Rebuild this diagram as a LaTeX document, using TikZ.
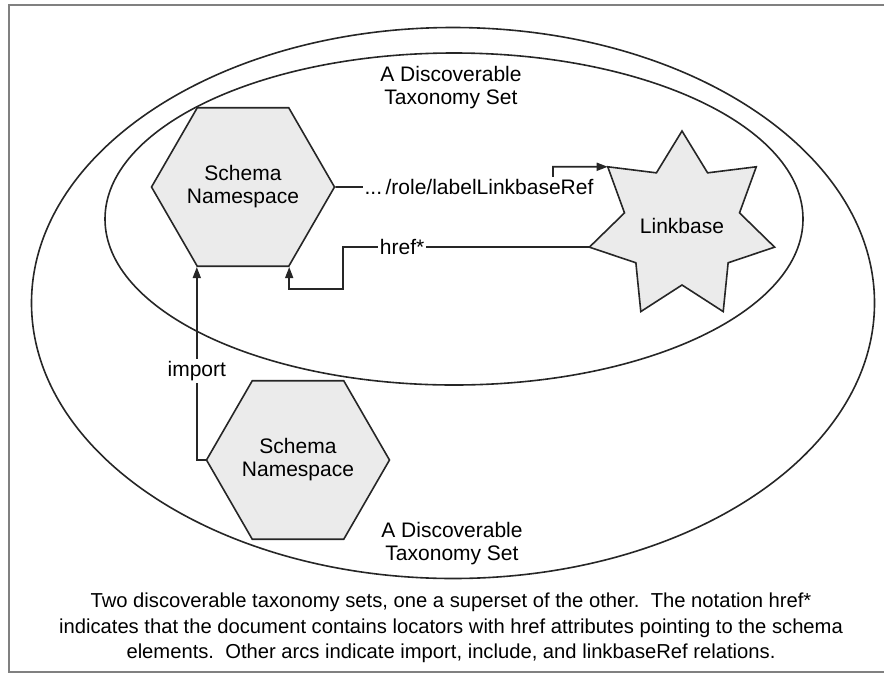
\documentclass[tikz,border=0pt]{standalone}
\usepackage{fontspec}
\setmainfont{Liberation Sans}
\usetikzlibrary{shapes.geometric,arrows.meta}
\newcommand{\lblFont}[0]{\fontsize{21}{23}\selectfont}
\newcommand{\capFont}[0]{\fontsize{20.2}{25.5}\selectfont}

\begin{document}
\begin{tikzpicture}[x=1pt, y=-1pt]
  \tikzset{line/.style={draw=black!85, line width=1.6pt},
           hexa/.style={line, fill=black!8, regular polygon, regular polygon sides=6,
                        align=center, font=\lblFont, inner sep=0pt},
           arr/.style={line, -{Triangle[length=11pt,width=8pt]}},
           lbl/.style={fill=white, font=\lblFont, inner sep=2pt, align=center}}
  \useasboundingbox (0,0) rectangle (885,675);
  \draw[draw=black!50, line width=2.2pt] (884,5) -- (9,5) -- (9,672) -- (884,672);
  \node[line, ellipse, minimum width=843, minimum height=551, inner sep=0pt] (outerset) at (453,303) {};
  \node[line, ellipse, minimum width=698, minimum height=332, inner sep=0pt] (innerset) at (454,219) {};
  \node[font=\lblFont, align=center] (innername) at (451,88) {A Discoverable\\Taxonomy Set};
  \node[font=\lblFont, align=center] (outername) at (452,544) {A Discoverable\\Taxonomy Set};
  \node[hexa, minimum size=180] (hexA) at (243,187) {Schema\\Namespace};
  \node[hexa, minimum size=166] (hexB) at (298,460) {Schema\\Namespace};
  % seven pointed star, drawn point by point (y runs down)
  \coordinate (lbc) at (682,226);
  \draw[line, fill=black!8, shift={(lbc)}]
    plot[samples at={0,...,13}] ({-90-\x*180/7}:{95-36*mod(\x,2)}) -- cycle;
  \node[font=\lblFont] (lb) at (lbc) {Linkbase};
  \path (lbc) ++(-141.43:95) coordinate (lbtipA);
  \path (lbc) ++(-192.86:95) coordinate (lbtipB);
  \coordinate (lkbend) at (553,187);
  \coordinate (hrefbend) at (343,289);
  \draw[arr] (hexA.east) -- node[lbl, pos=0.66]{...\,/role/labelLinkbaseRef} (lkbend) |- (lbtipA);
  \draw[arr] (lbtipB) -| node[lbl, pos=0.38]{href*} (hrefbend) -| (hexA.300);
  \draw[arr] (hexB.west) -| node[lbl, pos=0.73]{import} (hexA.240);
  \node[font=\capFont, align=center] (caption) at (451,628)
    {Two discoverable taxonomy sets, one a superset of the other.\ \ The notation href*\\
     indicates that the document contains locators with href attributes pointing to the schema\\
     elements.\ \ Other arcs indicate import, include, and linkbaseRef relations.};
\end{tikzpicture}
\end{document}
